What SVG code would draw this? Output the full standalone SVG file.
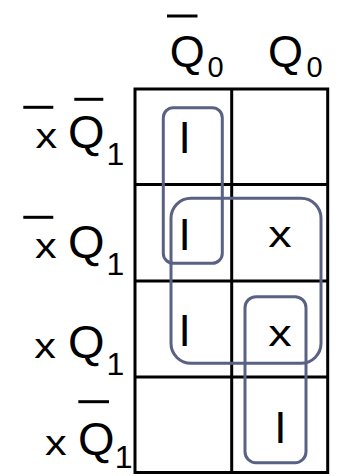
<svg xmlns="http://www.w3.org/2000/svg" width="337" height="476" viewBox="0 0 337 476">
  <style>
    .t { font-family: "Liberation Sans", Arial, sans-serif; fill: #000; }
    .grid { stroke: #000; stroke-width: 3; fill: none; }
    .bar { stroke: #000; stroke-width: 3; }
    .loop { stroke: #5a6283; stroke-width: 3; fill: none; }
  </style>

  <rect width="337" height="476" fill="#fff"/>

  <!-- Karnaugh map grid: 2 columns x 4 rows -->
  <g id="grid" class="grid">
    <rect x="135" y="89" width="192.7" height="383.5"/>
    <line x1="231.7" y1="89" x2="231.7" y2="472.5"/>
    <line x1="135" y1="184.5" x2="327.7" y2="184.5"/>
    <line x1="135" y1="281" x2="327.7" y2="281"/>
    <line x1="135" y1="377" x2="327.7" y2="377"/>
  </g>

  <!-- column headings -->
  <g id="col-q0-not">
    <line class="bar" x1="167" y1="16" x2="197.5" y2="16"/>
    <text class="t" x="169.8" y="67" font-size="45">Q</text>
    <text class="t" x="207.5" y="76.5" font-size="29">0</text>
  </g>
  <g id="col-q0">
    <text class="t" x="268" y="67" font-size="45">Q</text>
    <text class="t" x="306.5" y="76.5" font-size="29">0</text>
  </g>

  <!-- row headings -->
  <g id="row-1">
    <line class="bar" x1="23.3" y1="107.3" x2="53.3" y2="107.3"/>
    <text class="t" font-size="35.5" transform="translate(35.5,148.3) scale(1.22,1)">x</text>
    <line class="bar" x1="74.3" y1="99.3" x2="103.3" y2="99.3"/>
    <text class="t" x="68" y="148.3" font-size="47">Q</text>
    <text class="t" x="106.5" y="165" font-size="32">1</text>
  </g>
  <g id="row-2">
    <line class="bar" x1="23.3" y1="217.3" x2="53.3" y2="217.3"/>
    <text class="t" font-size="35.5" transform="translate(35,258.3) scale(1.22,1)">x</text>
    <text class="t" x="68" y="258.3" font-size="47">Q</text>
    <text class="t" x="106.5" y="275" font-size="32">1</text>
  </g>
  <g id="row-3">
    <text class="t" font-size="35.5" transform="translate(34.3,358.3) scale(1.22,1)">x</text>
    <text class="t" x="68" y="358.3" font-size="47">Q</text>
    <text class="t" x="106.5" y="375" font-size="32">1</text>
  </g>
  <g id="row-4">
    <text class="t" font-size="35.5" transform="translate(45,455) scale(1.22,1)">x</text>
    <line class="bar" x1="78.3" y1="401.7" x2="109" y2="401.7"/>
    <text class="t" x="78" y="455" font-size="47">Q</text>
    <text class="t" x="114.8" y="468" font-size="32">1</text>
  </g>

  <!-- cell entries -->
  <g id="cells" class="t" text-anchor="middle">
    <text x="184.5" y="153.3" font-size="44">I</text>
    <text x="184.5" y="250" font-size="44">I</text>
    <text x="184.5" y="346" font-size="44">I</text>
    <text x="280.3" y="442.7" font-size="44">I</text>
    <text font-size="36" transform="translate(280,246.7) scale(1.3,1)">x</text>
    <text font-size="36" transform="translate(280,346) scale(1.3,1)">x</text>
  </g>

  <!-- groupings -->
  <g id="loops" class="loop">
    <rect x="163.3" y="107.7" width="59" height="155.6" rx="10"/>
    <rect x="171" y="198.3" width="150" height="165" rx="20"/>
    <rect x="245" y="296.7" width="61" height="166" rx="11"/>
  </g>
</svg>
